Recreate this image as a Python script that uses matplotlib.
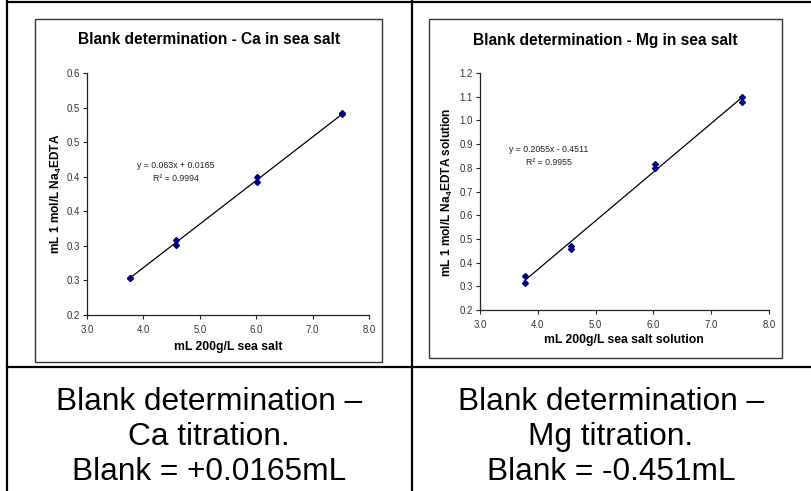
import numpy as np
import matplotlib
matplotlib.use("Agg")
import matplotlib.pyplot as plt
from matplotlib.patches import Rectangle
from matplotlib.lines import Line2D

plt.rcParams['font.family'] = ['Liberation Sans', 'DejaVu Sans']
plt.rcParams['mathtext.fontset'] = 'custom'
plt.rcParams['mathtext.rm'] = 'Liberation Sans'
plt.rcParams['mathtext.bf'] = 'Liberation Sans:bold'

# ---- data ----
x_sea_salt = [3.77, 3.77, 4.57, 4.57, 6.02, 6.02, 7.53, 7.53]
ca_edta = [0.254, 0.254, 0.308, 0.301, 0.399, 0.393, 0.492, 0.490]
mg_edta = [0.342, 0.316, 0.470, 0.458, 0.815, 0.801, 1.098, 1.077]

ca_slope, ca_intercept, ca_r2 = 0.063, 0.0165, 0.9994
mg_slope, mg_intercept, mg_r2 = 0.2055, -0.4511, 0.9955

x_ticks = [3.0, 4.0, 5.0, 6.0, 7.0, 8.0]
x_tick_labels = ['3.0', '4.0', '5.0', '6.0', '7.0', '8.0']
ca_y_ticks = [0.20, 0.25, 0.30, 0.35, 0.40, 0.45, 0.50, 0.55]
ca_y_tick_labels = ['0.2', '0.3', '0.3', '0.4', '0.4', '0.5', '0.5', '0.6']
mg_y_ticks = [0.2, 0.3, 0.4, 0.5, 0.6, 0.7, 0.8, 0.9, 1.0, 1.1, 1.2]
mg_y_tick_labels = ['0.2', '0.3', '0.4', '0.5', '0.6', '0.7', '0.8', '0.9', '1.0', '1.1', '1.2']

ca_title = 'Blank determination - Ca in sea salt'
mg_title = 'Blank determination - Mg in sea salt'
ca_xlabel = 'mL 200g/L sea salt'
mg_xlabel = 'mL 200g/L sea salt solution'
ca_ylabel = r'mL 1 mol/L Na$_{\mathbf{4}}$EDTA'
mg_ylabel = r'mL 1 mol/L Na$_{\mathbf{4}}$EDTA solution'
ca_caption = 'Blank determination \u2013\nCa titration.\nBlank = +0.0165mL'
mg_caption = 'Blank determination \u2013\nMg titration.\nBlank = -0.451mL'

W, H = 811, 491
fig = plt.figure(figsize=(W / 100, H / 100), dpi=100)


def fx(px):
    return px / W


def fy(py):
    return 1 - py / H


# table lines
tbl_kw = dict(color='black', linewidth=1.6, transform=fig.transFigure)
fig.add_artist(Line2D([fx(7), fx(7)], [fy(1), fy(491)], **tbl_kw))
fig.add_artist(Line2D([fx(7), fx(811)], [fy(1.5), fy(1.5)], **tbl_kw))
fig.add_artist(Line2D([fx(412), fx(412)], [fy(1), fy(491)], **tbl_kw))
fig.add_artist(Line2D([fx(7), fx(811)], [fy(367), fy(367)], **tbl_kw))

# chart boxes
for (x0, y0, x1, y1) in [(35, 19, 382, 362), (429, 19, 782, 358)]:
    fig.add_artist(Rectangle((fx(x0), fy(y1)), fx(x1) - fx(x0), fy(y0) - fy(y1),
                             transform=fig.transFigure, fill=False,
                             edgecolor='#333333', linewidth=1.0))


def make_panel(ax_px, xs, ys, slope, intercept, r2, yticks, ylabels, ylim,
               title, title_xy, xlabel, xlabel_xy, ylabel, ylabel_xy, eq_xy, sign):
    x0, y0, x1, y1 = ax_px
    ax = fig.add_axes([fx(x0), fy(y1), fx(x1) - fx(x0), fy(y0) - fy(y1)])
    ax.set_xlim(3.0, 8.0)
    ax.set_ylim(*ylim)
    for s in ['top', 'right']:
        ax.spines[s].set_visible(False)
    for s in ['left', 'bottom']:
        ax.spines[s].set_color('#222222')
        ax.spines[s].set_linewidth(0.9)
    ax.set_xticks(x_ticks)
    ax.set_xticklabels(x_tick_labels)
    ax.set_yticks(yticks)
    ax.set_yticklabels(ylabels)
    ax.tick_params(axis='both', direction='out', length=3, width=0.8,
                   color='#222222', labelsize=6.9, labelcolor='#333333')
    ax.tick_params(axis='x', pad=4.5)
    ax.tick_params(axis='y', pad=2.3)
    xs = np.array(xs)
    xl = np.array([xs.min(), xs.max()])
    ax.plot(xl, slope * xl + intercept, color='black', linewidth=0.9, zorder=2)
    ax.plot(xs, ys, linestyle='none', marker='D', markersize=3.0,
            color='#000080', zorder=3)
    fig.text(fx(title_xy[0]), fy(title_xy[1]), title, ha='center', va='center',
             fontsize=11.2, fontweight='bold')
    fig.text(fx(xlabel_xy[0]), fy(xlabel_xy[1]), xlabel, ha='center', va='center',
             fontsize=8.8, fontweight='bold')
    fig.text(fx(ylabel_xy[0]), fy(ylabel_xy[1]), ylabel, ha='center', va='center',
             fontsize=8.6, fontweight='bold', rotation=90)
    eq = 'y = %gx %s %g' % (slope, sign, abs(intercept))
    fig.text(fx(eq_xy[0]), fy(eq_xy[1]), eq, ha='center', va='center',
             fontsize=6.3, color='#222222')
    fig.text(fx(eq_xy[0]), fy(eq_xy[1] + 13.5), 'R\u00b2 = %.4f' % r2,
             ha='center', va='center', fontsize=6.3, color='#222222')
    return ax


make_panel((87, 73, 369, 315), x_sea_salt, ca_edta, ca_slope, ca_intercept, ca_r2,
           ca_y_ticks, ca_y_tick_labels, (0.2, 0.55), ca_title, (209, 40),
           ca_xlabel, (228, 347), ca_ylabel, (56, 194), (176, 165), '+')
make_panel((480, 73, 769, 310), x_sea_salt, mg_edta, mg_slope, mg_intercept, mg_r2,
           mg_y_ticks, mg_y_tick_labels, (0.2, 1.2), mg_title, (605, 40),
           mg_xlabel, (624, 340), mg_ylabel, (447, 192), (549, 149), '-')

fig.text(fx(209), fy(437), ca_caption, ha='center', va='center', fontsize=22.8,
         linespacing=1.22)
fig.text(fx(611), fy(437), mg_caption, ha='center', va='center', fontsize=22.8,
         linespacing=1.22)

fig.savefig('out.png', dpi=100)
